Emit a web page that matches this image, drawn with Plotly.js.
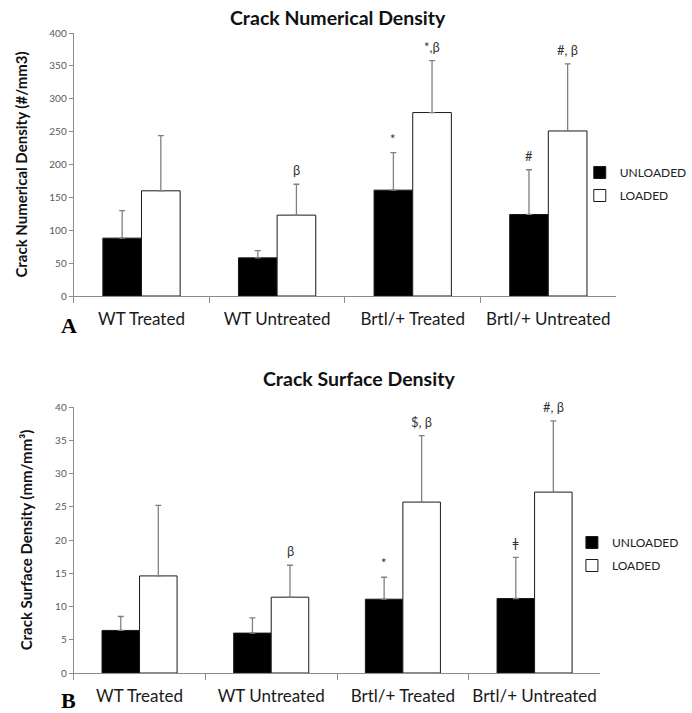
<!DOCTYPE html>
<html>
<head>
<meta charset="utf-8">
<script src="https://cdn.plot.ly/plotly-3.0.1.min.js"></script>
<style>html,body{margin:0;padding:0;background:#fff;}#chart{width:692px;height:713px;}</style>
</head>
<body>
<div id="chart"></div>
<script>
// ---- data ----
const categories = ['WT Treated', 'WT Untreated', 'Brtl/+ Treated', 'Brtl/+ Untreated'];
const seriesNames = ['UNLOADED', 'LOADED'];

// Panel A: Crack Numerical Density (#/mm3)
const numUnloaded = [88, 58, 161, 124];
const numUnloadedErr = [42, 11, 57, 68];
const numLoaded = [160, 123, 279, 251];
const numLoadedErr = [84, 47, 79, 102];
const numMarkUnloaded = ['', '', '*', '#'];
const numMarkLoaded = ['', 'β', '*,β', '#, β'];

// Panel B: Crack Surface Density (mm/mm3)
const surfUnloaded = [6.4, 6.0, 11.1, 11.2];
const surfUnloadedErr = [2.1, 2.3, 3.3, 6.2];
const surfLoaded = [14.6, 11.4, 25.7, 27.2];
const surfLoadedErr = [10.6, 4.8, 10.0, 10.7];
const surfMarkUnloaded = ['', '', '*', 'ǂ'];
const surfMarkLoaded = ['', 'β', '$, β', '#, β'];

const titleA = 'Crack Numerical Density';
const titleB = 'Crack Surface Density';
const yTitleA = 'Crack Numerical Density (#/mm3)';
const yTitleB = 'Crack Surface Density (mm/mm³)';

// ---- layout constants ----
const W = 692, H = 713;
const FONT = 'Lato, "Open Sans", sans-serif';
const BARGAP = 0.43;
const xDomA = [75 / W, 627 / W];
const xDomB = [75 / W, 611 / W];
const yDomA = [1 - 296 / H, 1 - 33 / H];
const yDomB = [1 - 673 / H, 1 - 407 / H];

function zeros(n) { return new Array(n).fill(0); }

function barTrace(y, err, name, fill, xa, ya, leg, showleg) {
  return {
    type: 'bar', x: categories, y: y, name: name,
    xaxis: xa, yaxis: ya, legend: leg, showlegend: showleg,
    legendgroup: name + leg,
    marker: {color: fill, line: {color: '#1a1a1a', width: 1}},
    error_y: {type: 'data', symmetric: false, array: err, arrayminus: zeros(err.length),
              color: '#808080', thickness: 1.3, width: 3},
    hoverinfo: 'x+y'
  };
}

const traces = [
  barTrace(numUnloaded, numUnloadedErr, seriesNames[0], '#000000', 'x', 'y', 'legend', true),
  barTrace(numLoaded, numLoadedErr, seriesNames[1], '#ffffff', 'x', 'y', 'legend', true),
  barTrace(surfUnloaded, surfUnloadedErr, seriesNames[0], '#000000', 'x2', 'y2', 'legend2', true),
  barTrace(surfLoaded, surfLoadedErr, seriesNames[1], '#ffffff', 'x2', 'y2', 'legend2', true)
];

// significance markers above error bars
function markAnnotations(vals, errs, marks, xref, yref, dom, side) {
  const catW = (dom[1] - dom[0]) * W / categories.length;
  const barW = catW * (1 - BARGAP) / 2;
  const out = [];
  marks.forEach((m, i) => {
    if (!m) return;
    out.push({
      xref: xref, yref: yref, x: categories[i], y: vals[i] + errs[i],
      xshift: side * barW / 2, yshift: 14, text: m, showarrow: false,
      yanchor: 'middle', xanchor: 'center',
      font: {family: FONT, size: 13, color: '#333333'}
    });
  });
  return out;
}

const axisCommon = {
  showgrid: false, zeroline: false, showline: true, linecolor: '#8c8c8c', linewidth: 1,
  ticks: 'outside', tickcolor: '#8c8c8c', ticklen: 4, fixedrange: true
};

function xAxis(dom, anchor) {
  return Object.assign({}, axisCommon, {
    domain: dom, anchor: anchor, type: 'category', tickson: 'boundaries', ticklen: 6,
    tickfont: {family: FONT, size: 17, color: '#1a1a1a'}, ticklabelstandoff: 8
  });
}
function yAxis(dom, anchor, range, dtick, title) {
  return Object.assign({}, axisCommon, {
    domain: dom, anchor: anchor, range: range, dtick: dtick,
    tickfont: {family: FONT, size: 10, color: '#595959'},
    title: {text: title, font: {family: FONT, size: 15, color: '#111111', weight: 'bold'}, standoff: 18}
  });
}

const annotations = [].concat(
  markAnnotations(numUnloaded, numUnloadedErr, numMarkUnloaded, 'x', 'y', xDomA, -1),
  markAnnotations(numLoaded, numLoadedErr, numMarkLoaded, 'x', 'y', xDomA, 1),
  markAnnotations(surfUnloaded, surfUnloadedErr, surfMarkUnloaded, 'x2', 'y2', xDomB, -1),
  markAnnotations(surfLoaded, surfLoadedErr, surfMarkLoaded, 'x2', 'y2', xDomB, 1),
  [
    {xref: 'paper', yref: 'paper', x: 344 / W, y: 1 - 17 / H, text: titleA, showarrow: false,
     xanchor: 'center', yanchor: 'middle', font: {family: FONT, size: 19.5, color: '#111111', weight: 'bold'}},
    {xref: 'paper', yref: 'paper', x: 365 / W, y: 1 - 379 / H, text: titleB, showarrow: false,
     xanchor: 'center', yanchor: 'middle', font: {family: FONT, size: 19.5, color: '#111111', weight: 'bold'}},
    {xref: 'paper', yref: 'paper', x: 70 / W, y: 1 - 326 / H, text: 'A', showarrow: false,
     xanchor: 'center', yanchor: 'middle', font: {family: '"Liberation Serif", serif', size: 22, color: '#000000', weight: 'bold'}},
    {xref: 'paper', yref: 'paper', x: 70 / W, y: 1 - 700 / H, text: 'B', showarrow: false,
     xanchor: 'center', yanchor: 'middle', font: {family: '"Liberation Serif", serif', size: 22, color: '#000000', weight: 'bold'}}
  ]
);

const legendCommon = {
  xanchor: 'left', yanchor: 'top', bgcolor: 'rgba(0,0,0,0)', borderwidth: 0,
  font: {family: FONT, size: 12, color: '#222222'}, traceorder: 'grouped', tracegroupgap: 4
};

const layout = {
  width: W, height: H, margin: {l: 0, r: 0, t: 0, b: 0},
  paper_bgcolor: '#ffffff', plot_bgcolor: '#ffffff',
  barmode: 'group', bargap: BARGAP, bargroupgap: 0,
  showlegend: true,
  xaxis: xAxis(xDomA, 'y'),
  yaxis: yAxis(yDomA, 'x', [0, 400], 50, yTitleA),
  xaxis2: xAxis(xDomB, 'y2'),
  yaxis2: yAxis(yDomB, 'x2', [0, 40], 5, yTitleB),
  legend: Object.assign({}, legendCommon, {x: 590 / W, y: 1 - 158 / H}),
  legend2: Object.assign({}, legendCommon, {x: 582 / W, y: 1 - 528 / H}),
  annotations: annotations
};

Plotly.newPlot('chart', traces, layout, {displayModeBar: false, staticPlot: true});
</script>
</body>
</html>
